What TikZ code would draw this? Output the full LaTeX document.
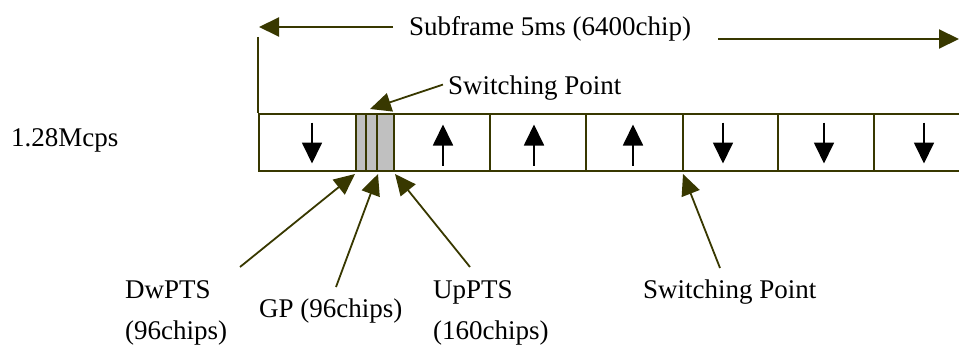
\documentclass[tikz,border=0pt]{standalone}
\usepackage{fontspec}
\setmainfont{Liberation Serif}
\usetikzlibrary{arrows.meta,calc}
\definecolor{olv}{RGB}{56,56,0}
\definecolor{slotgray}{RGB}{192,192,192}
\begin{document}
\begin{tikzpicture}[x=1pt,y=-1pt,
  slot/.style={draw=olv,line width=2pt,minimum height=57pt,inner sep=0pt,anchor=west},
  gslot/.style={slot,fill=slotgray},
  conn/.style={draw=olv,line width=1.8pt,-{Triangle[length=21pt,width=19pt]}},
  span/.style={draw=olv,line width=2pt,-{Triangle[length=20pt,width=19pt]}},
  frameline/.style={draw=olv,line width=2pt},
  dirarrow/.style={draw=black,line width=1.8pt,-{Triangle[length=21pt,width=20pt]}},
  lbl/.style={font=\fontsize{27}{32}\selectfont,inner sep=0pt,anchor=base west}]
\clip (0,0) rectangle (959,345);
% slots
\node[slot,minimum width=97pt] (s1) at (258,142.5) {};
\node[gslot,minimum width=10pt] (g1) at (355,142.5) {};
\node[gslot,minimum width=11pt] (g2) at (365,142.5) {};
\node[gslot,minimum width=17pt] (g3) at (376,142.5) {};
\node[slot,minimum width=96pt] (s2) at (393,142.5) {};
\node[slot,minimum width=96pt] (s3) at (489,142.5) {};
\node[slot,minimum width=97pt] (s4) at (585,142.5) {};
\node[slot,minimum width=95pt] (s5) at (682,142.5) {};
\node[slot,minimum width=96pt] (s6) at (777,142.5) {};
\node[slot,minimum width=110pt] (s7) at (873,142.5) {};
% direction arrows
\foreach \n/\dx in {s1/4.5,s5/-7.5,s6/-2,s7/-5}
  \draw[dirarrow] ($(\n.center)+(\dx,-20)$) -- ($(\n.center)+(\dx,21)$);
\foreach \n/\dx in {s2/1,s3/-4,s4/-1.5}
  \draw[dirarrow] ($(\n.center)+(\dx,23)$) -- ($(\n.center)+(\dx,-18)$);
% title and span arrows
\node[lbl] (title) at (409,36) {Subframe 5ms (6400chip)};
\coordinate (tl) at (259,27);
\coordinate (tr) at (959,39);
\coordinate (vt) at (258,37);
\draw[span] ($(title.west|-tl)+(-16,0)$) -- (tl);
\draw[span] ($(title.east|-tr)+(27,0)$) -- (tr);
\draw[frameline] (vt) -- (s1.north west);
% rate
\node[lbl] (rate) at (11,146) {1.28Mcps};
% top switching point
\node[lbl] (sptop) at (448,95) {Switching Point};
\draw[conn] ($(sptop.west)+(-5,-4)$) -- ($(g2.north)+(-1.5,-4)$);
% bottom labels
\node[lbl] (dw) at (125,298) {DwPTS};
\node[lbl] (dwc) at (125,339) {(96chips)};
\node[lbl] (gp) at (259,317) {GP (96chips)};
\node[lbl] (up) at (433,298) {UpPTS};
\node[lbl] (upc) at (433,339) {(160chips)};
\node[lbl] (spb) at (643,298) {Switching Point};
\coordinate (dwstart) at (240,267);
\coordinate (gpstart) at (336,287);
\coordinate (upstart) at (470,267);
\coordinate (spstart) at (720,268);
\draw[conn] (dwstart) -- ($(s1.south east)+(-2,2)$);
\draw[conn] (gpstart) -- ($(g2.south east)+(0,2)$);
\draw[conn] (upstart) -- ($(g3.south east)+(0,2)$);
\draw[conn] (spstart) -- ($(s4.south east)+(-1,2)$);
\end{tikzpicture}
\end{document}
